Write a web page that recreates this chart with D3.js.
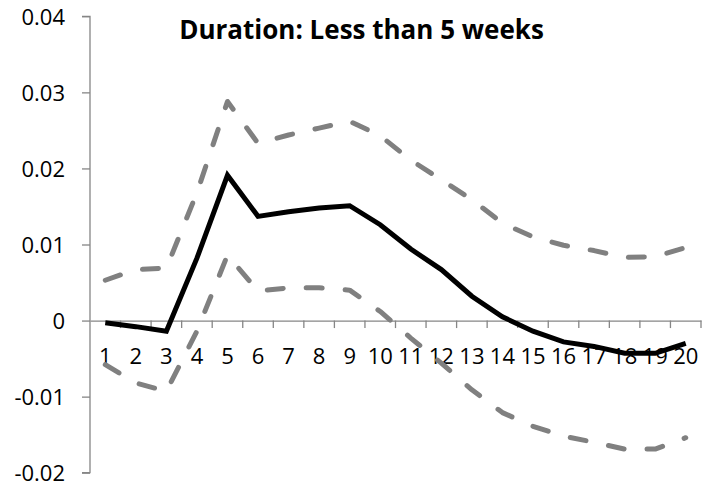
<!DOCTYPE html>
<html>
<head>
<meta charset="utf-8">
<script src="https://cdn.jsdelivr.net/npm/d3@7"></script>
<style>
  html, body { margin: 0; padding: 0; background: #fff; }
  svg { display: block; }
</style>
</head>
<body>
<svg id="chart" width="721" height="489"></svg>
<script>
const categories = ["1","2","3","4","5","6","7","8","9","10","11","12","13","14","15","16","17","18","19","20"];
const irf   = [-0.0003, -0.0008, -0.0014, 0.0082, 0.0191, 0.0137, 0.0143, 0.0148, 0.0151, 0.0126, 0.0094, 0.0067, 0.0032, 0.0005, -0.0014, -0.0028, -0.0034, -0.0043, -0.0043, -0.0030];
const upper = [0.0053, 0.0067, 0.0069, 0.0168, 0.0288, 0.0233, 0.0244, 0.0253, 0.0262, 0.0243, 0.0211, 0.0185, 0.0159, 0.0128, 0.0110, 0.0099, 0.0092, 0.0083, 0.0084, 0.0096];
const lower = [-0.0058, -0.0082, -0.0093, -0.0014, 0.0086, 0.0039, 0.0043, 0.0043, 0.0040, 0.0012, -0.0023, -0.0056, -0.0091, -0.0121, -0.0139, -0.0152, -0.0160, -0.0169, -0.0169, -0.0154];
const yTicks = [-0.02, -0.01, 0, 0.01, 0.02, 0.03, 0.04];
const yTickLabels = ["-0.02", "-0.01", "0", "0.01", "0.02", "0.03", "0.04"];
const title = "Duration: Less than 5 weeks";

const svg = d3.select("#chart");
const axisColor = "#868686";
const font = "'Open Sans', 'Noto Sans', sans-serif";

const x = d3.scaleBand().domain(categories).range([90, 701]).paddingInner(0).paddingOuter(0);
const y = d3.scaleLinear().domain([-0.02, 0.04]).range([472.7, 16.3]);

// Y axis
const yAxis = svg.append("g")
  .attr("transform", "translate(90,0)")
  .call(d3.axisLeft(y).tickValues(yTicks).tickSize(8).tickPadding(17)
        .tickFormat((d, i) => yTickLabels[i]));
yAxis.select(".domain").attr("stroke", axisColor).attr("stroke-width", 1.3).attr("d", `M-8,${y(0.04)}H0V${y(-0.02)}H-8`);
yAxis.selectAll(".tick line").attr("stroke", axisColor).attr("stroke-width", 1.3);
yAxis.selectAll(".tick text").attr("fill", "#000").attr("font-family", font).attr("font-size", "22px").attr("dy", "0.36em");

// X axis: line at zero, tick marks at band boundaries, labels at band centers
const y0 = y(0);
const xAxis = svg.append("g").attr("transform", `translate(0,${y0})`);
xAxis.call(d3.axisBottom(x).tickSize(0).tickPadding(27.5));
xAxis.select(".domain").attr("stroke", axisColor).attr("stroke-width", 1.3);
xAxis.selectAll(".tick text").attr("fill", "#000").attr("font-family", font).attr("font-size", "22px");
const boundaries = categories.map(c => x(c)).concat([x.range()[1]]).slice(1);
xAxis.selectAll("line.bound").data(boundaries).enter().append("line")
  .attr("class", "bound")
  .attr("x1", d => d).attr("x2", d => d)
  .attr("y1", 0).attr("y2", 7.5)
  .attr("stroke", axisColor).attr("stroke-width", 1.3);

const line = d3.line()
  .x((d, i) => x(categories[i]) + x.bandwidth() / 2)
  .y(d => y(d));

svg.append("path").datum(upper)
  .attr("d", line).attr("fill", "none")
  .attr("stroke", "#808080").attr("stroke-width", 5)
  .attr("stroke-dasharray", "16,23").attr("stroke-linecap", "round").attr("stroke-linejoin", "round");
svg.append("path").datum(lower)
  .attr("d", line).attr("fill", "none")
  .attr("stroke", "#808080").attr("stroke-width", 5)
  .attr("stroke-dasharray", "16,23").attr("stroke-linecap", "round").attr("stroke-linejoin", "round");
svg.append("path").datum(irf)
  .attr("d", line).attr("fill", "none")
  .attr("stroke", "#000").attr("stroke-width", 5)
  .attr("stroke-linejoin", "miter");

svg.append("text")
  .attr("x", 361.5).attr("y", 38.5)
  .attr("text-anchor", "middle")
  .attr("font-family", font).attr("font-weight", "bold").attr("font-size", "26px")
  .attr("fill", "#000")
  .text(title);
</script>
</body>
</html>
